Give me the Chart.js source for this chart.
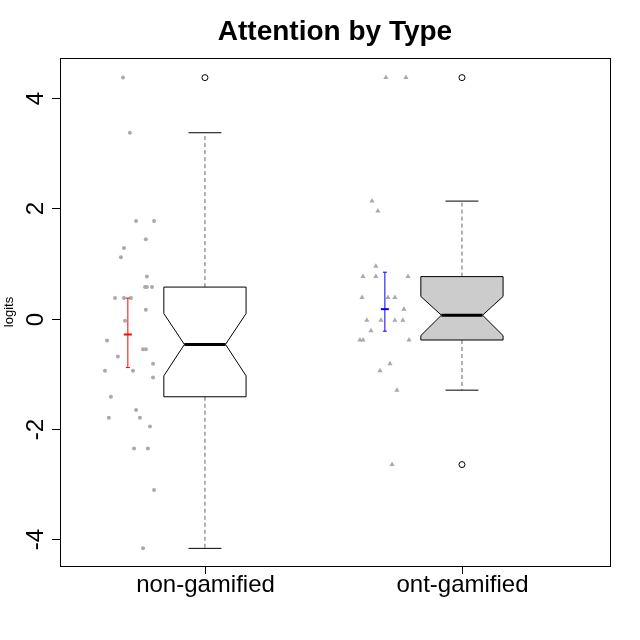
<!DOCTYPE html>
<html>
<head>
<meta charset="utf-8">
<script src="https://cdn.jsdelivr.net/npm/chart.js@4"></script>
<style>
  html, body { margin: 0; background: #fff; }
</style>
</head>
<body>
<canvas id="chart" width="640" height="640"></canvas>
<script>
const categories = ['non-gamified', 'ont-gamified'];
const yTicks = [-4, -2, 0, 2, 4];

// jittered points (x = category position with jitter, y = logits)
const nonGamX = [0.681, 0.708, 0.732, 0.802, 0.770, 0.685, 0.673, 0.774, 0.767, 0.774, 0.794, 0.650, 0.685, 0.712, 0.770, 0.689, 0.619, 0.759, 0.770, 0.661, 0.798, 0.611, 0.720, 0.798, 0.634, 0.732, 0.626, 0.747, 0.786, 0.724, 0.778, 0.802, 0.759];
const nonGamY = [4.37, 3.37, 1.77, 1.77, 1.44, 1.28, 1.11, 0.76, 0.57, 0.57, 0.57, 0.37, 0.37, 0.37, 0.16, -0.04, -0.40, -0.56, -0.56, -0.69, -0.82, -0.95, -0.95, -1.07, -1.42, -1.66, -1.80, -1.80, -1.96, -2.36, -2.36, -3.11, -4.17];
const ontGamX = [1.704, 1.782, 1.650, 1.673, 1.665, 1.615, 1.665, 1.790, 1.611, 1.712, 1.739, 1.774, 1.630, 1.685, 1.739, 1.770, 1.646, 1.603, 1.615, 1.794, 1.720, 1.681, 1.747, 1.728];
const ontGamY = [4.37, 4.37, 2.13, 1.95, 0.95, 0.76, 0.76, 0.76, 0.38, 0.38, 0.38, 0.17, -0.03, -0.03, -0.03, -0.03, -0.22, -0.39, -0.39, -0.39, -0.82, -0.95, -1.30, -2.65];

// mean and error bar per group
const means = [-0.29, 0.17];
const errLow = [-0.89, -0.23];
const errHigh = [0.37, 0.84];
const errColors = ['#ff0000', '#0000ff'];

// box statistics
const whiskerLow = [-4.17, -1.30];
const q1 = [-1.42, -0.39];
const medians = [-0.47, 0.06];
const q3 = [0.57, 0.76];
const whiskerHigh = [3.37, 2.13];
const notchLow = [-1.04, -0.31];
const notchHigh = [0.09, 0.40];
const outliers = [[4.37], [4.37, -2.65]];
const boxFills = ['#ffffff', '#cccccc'];

const toPoints = (xs, ys) => xs.map((x, i) => ({ x, y: ys[i] }));

const rPlot = {
  id: 'rPlot',
  afterDatasetsDraw(chart) {
    const { ctx, chartArea: a, scales: { x, y } } = chart;
    ctx.save();
    ctx.lineWidth = 1;
    // error bars
    means.forEach((m, i) => {
      const px = x.getPixelForValue(i + 0.7);
      ctx.strokeStyle = errColors[i];
      ctx.beginPath();
      ctx.moveTo(px, y.getPixelForValue(errLow[i]));
      ctx.lineTo(px, y.getPixelForValue(errHigh[i]));
      [errLow[i], errHigh[i]].forEach(v => {
        ctx.moveTo(px - 2, y.getPixelForValue(v));
        ctx.lineTo(px + 2, y.getPixelForValue(v));
      });
      ctx.stroke();
      ctx.lineWidth = 2;
      ctx.beginPath();
      ctx.moveTo(px - 4, y.getPixelForValue(m));
      ctx.lineTo(px + 4, y.getPixelForValue(m));
      ctx.stroke();
      ctx.lineWidth = 1;
    });
    // boxes
    categories.forEach((c, i) => {
      const cx = x.getPixelForValue(i + 1);
      const hw = (x.getPixelForValue(1.16) - x.getPixelForValue(1));
      const nw = hw * 0.5;
      const cw = hw * 0.4;
      const Y = v => y.getPixelForValue(v);
      // whiskers
      ctx.strokeStyle = '#666';
      ctx.setLineDash([4, 3]);
      ctx.beginPath();
      ctx.moveTo(cx, Y(q3[i])); ctx.lineTo(cx, Y(whiskerHigh[i]));
      ctx.moveTo(cx, Y(q1[i])); ctx.lineTo(cx, Y(whiskerLow[i]));
      ctx.stroke();
      ctx.setLineDash([]);
      ctx.strokeStyle = '#000';
      ctx.beginPath();
      ctx.moveTo(cx - cw, Y(whiskerHigh[i])); ctx.lineTo(cx + cw, Y(whiskerHigh[i]));
      ctx.moveTo(cx - cw, Y(whiskerLow[i])); ctx.lineTo(cx + cw, Y(whiskerLow[i]));
      ctx.stroke();
      // notched box
      ctx.beginPath();
      ctx.moveTo(cx - hw, Y(q3[i]));
      ctx.lineTo(cx + hw, Y(q3[i]));
      ctx.lineTo(cx + hw, Y(notchHigh[i]));
      ctx.lineTo(cx + nw, Y(medians[i]));
      ctx.lineTo(cx + hw, Y(notchLow[i]));
      ctx.lineTo(cx + hw, Y(q1[i]));
      ctx.lineTo(cx - hw, Y(q1[i]));
      ctx.lineTo(cx - hw, Y(notchLow[i]));
      ctx.lineTo(cx - nw, Y(medians[i]));
      ctx.lineTo(cx - hw, Y(notchHigh[i]));
      ctx.closePath();
      ctx.fillStyle = boxFills[i];
      ctx.fill();
      ctx.stroke();
      ctx.lineWidth = 3;
      ctx.beginPath();
      ctx.moveTo(cx - nw, Y(medians[i])); ctx.lineTo(cx + nw, Y(medians[i]));
      ctx.stroke();
      ctx.lineWidth = 1;
      outliers[i].forEach(v => {
        ctx.beginPath();
        ctx.arc(cx, Y(v), 3, 0, Math.PI * 2);
        ctx.stroke();
      });
    });
    // frame
    ctx.strokeStyle = '#000';
    ctx.strokeRect(a.left + 0.5, a.top + 0.5, a.right - a.left, a.bottom - a.top);
    // y axis
    ctx.fillStyle = '#000';
    ctx.font = '24px "Liberation Sans", Arial, sans-serif';
    ctx.textAlign = 'center';
    ctx.textBaseline = 'middle';
    ctx.beginPath();
    yTicks.forEach(t => {
      const py = Math.round(y.getPixelForValue(t)) + 0.5;
      ctx.moveTo(a.left, py); ctx.lineTo(a.left - 8, py);
      ctx.save();
      ctx.translate(36, py);
      ctx.rotate(-Math.PI / 2);
      ctx.fillText(String(t), 0, 0);
      ctx.restore();
    });
    // x axis ticks
    categories.forEach((c, i) => {
      const px = Math.round(x.getPixelForValue(i + 1)) + 0.5;
      ctx.moveTo(px, a.bottom); ctx.lineTo(px, a.bottom + 8);
      ctx.fillText(c, px, a.bottom + 19);
    });
    ctx.stroke();
    // axis title
    ctx.font = '13px "Liberation Sans", Arial, sans-serif';
    ctx.save();
    ctx.translate(9, (a.top + a.bottom) / 2);
    ctx.rotate(-Math.PI / 2);
    ctx.fillText('logits', 0, 0);
    ctx.restore();
    // title
    ctx.font = 'bold 28px "Liberation Sans", Arial, sans-serif';
    ctx.fillText('Attention by Type', (a.left + a.right) / 2, 32);
    ctx.restore();
  },
};

new Chart(document.getElementById('chart'), {
  type: 'scatter',
  data: {
    datasets: [
      {
        data: toPoints(nonGamX, nonGamY),
        pointStyle: 'circle',
        pointRadius: 2,
        backgroundColor: '#aaaaaa',
        borderWidth: 0,
      },
      {
        data: toPoints(ontGamX, ontGamY),
        pointStyle: 'triangle',
        pointRadius: 3,
        backgroundColor: '#aaaaaa',
        borderWidth: 0,
      },
    ],
  },
  options: {
    responsive: false,
    animation: false,
    devicePixelRatio: 1,
    layout: { padding: { left: 60, right: 30, top: 58, bottom: 74 } },
    plugins: { legend: { display: false }, tooltip: { enabled: false } },
    scales: {
      x: { type: 'linear', display: false, min: 0.436, max: 2.576 },
      y: { type: 'linear', display: false, min: -4.49, max: 4.726 },
    },
  },
  plugins: [rPlot],
});
</script>
</body>
</html>
